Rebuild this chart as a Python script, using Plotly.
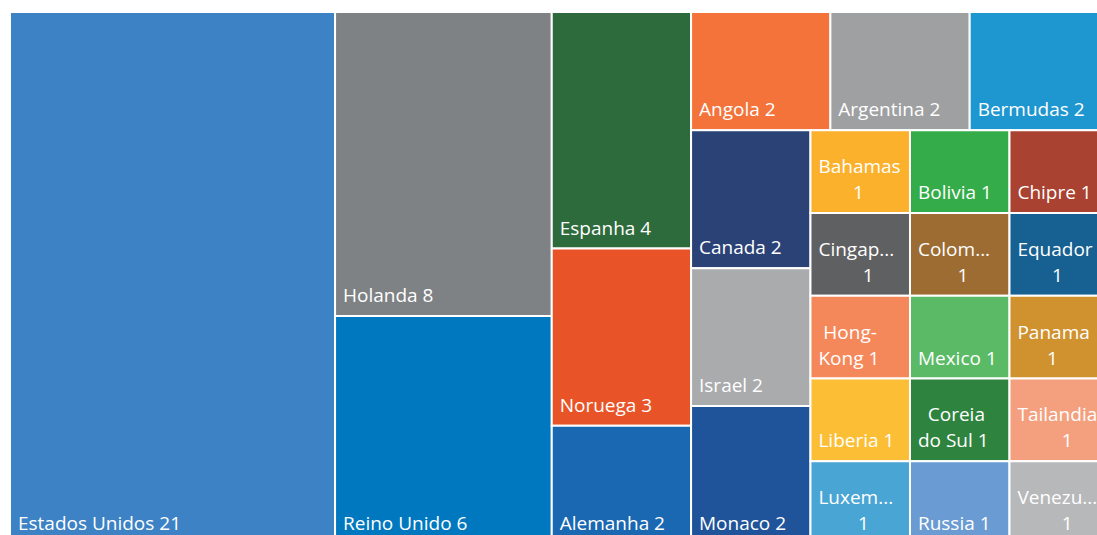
import plotly.graph_objects as go

paises = ["Estados Unidos", "Holanda", "Reino Unido", "Espanha", "Noruega", "Alemanha",
          "Angola", "Argentina", "Bermudas", "Canada", "Israel", "Monaco",
          "Bahamas", "Bolivia", "Chipre", "Cingapura", "Colombia", "Equador",
          "Hong-Kong", "Liberia", "Luxemburgo", "Mexico", "Panama", "Coreia do Sul",
          "Russia", "Tailandia", "Venezuela"]
quantidade = [21, 8, 6, 4, 3, 2,
              2, 2, 2, 2, 2, 2,
              1, 1, 1, 1, 1, 1,
              1, 1, 1, 1, 1, 1,
              1, 1, 1]
# rotulos como aparecem no visual (quebrados / truncados)
rotulos = ["Estados Unidos 21", "Holanda 8", "Reino Unido 6", "Espanha 4", "Noruega 3", "Alemanha 2",
           "Angola 2", "Argentina 2", "Bermudas 2", "Canada 2", "Israel 2", "Monaco 2",
           "Bahamas<br>1", "Bolivia 1", "Chipre 1", "Cingap...<br>1", "Colom...<br>1", "Equador<br>1",
           "Hong-<br>Kong 1", "Liberia 1", "Luxem...<br>1", "Mexico 1", "Panama<br>1", "Coreia<br>do Sul 1",
           "Russia 1", "Tailandia<br>1", "Venezu...<br>1"]
cores = ["#3C82C4", "#7F8284", "#0078BF", "#2E6B3C", "#E85428", "#1A67B2",
         "#F3733A", "#9EA0A2", "#1E96CF", "#2B4277", "#A9ABAD", "#1F549A",
         "#FBB12B", "#35AC4A", "#A94230", "#5F6062", "#9C6C33", "#176092",
         "#F5885A", "#FCBE34", "#49A5D4", "#5BBA66", "#D0922E", "#2E843F",
         "#6A9BD2", "#F4A07F", "#B7B8BA"]

NB = "\u00a0"
TAM = 19  # tamanho visivel do texto


def formata(rot):
    # centra as linhas quebradas umas sob as outras (como no Power BI)
    linhas = rot.split("<br>")
    maior = max(len(l) for l in linhas)
    out = []
    for l in linhas:
        n = round((maior - len(l)) * 1.1)
        out.append('<span style="font-size:%dpx">%s%s</span>' % (TAM, NB * (1 + n), l))
    # fonte base pequena: <br><br> ~ uma linha de 19px; sup final afasta da borda inferior
    return "<br><br>".join(out) + "<br><sup>" + NB + "</sup>"


texto = [formata(r) for r in rotulos]

fig = go.Figure(go.Treemap(
    labels=paises,
    parents=[""] * len(paises),
    values=quantidade,
    text=texto,
    texttemplate="%{text}",
    textposition="bottom left",
    textfont=dict(family="Open Sans", size=10, color="white"),
    marker=dict(colors=cores, line=dict(color="white", width=2), pad=dict(t=0, l=0, r=0, b=0)),
    tiling=dict(packing="squarify", pad=0),
    pathbar=dict(visible=False),
    sort=False,
    hoverinfo="label+value",
))

fig.update_layout(
    width=1109,
    height=544,
    margin=dict(l=10, t=12, r=0, b=0),
    paper_bgcolor="white",
)
fig.write_html(
    "out.html",
    config={"displayModeBar": False},
    post_script=("document.body.style.margin='0';"
                 "document.documentElement.style.overflow='hidden';"
                 "document.body.style.overflow='hidden';"),
)
